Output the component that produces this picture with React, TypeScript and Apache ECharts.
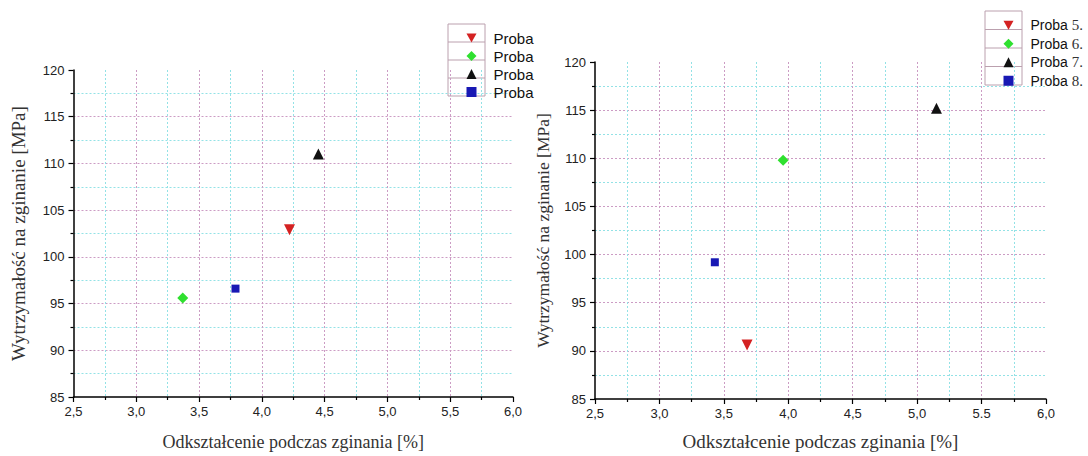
import React, { useEffect, useRef } from "react";
import * as echarts from "echarts";

// ---- data ----
const leftNames = ["Proba 1", "Proba 2", "Proba 3", "Proba 4"];
const leftX = [4.22, 3.37, 4.45, 3.79];
const leftY = [102.9, 95.6, 111.0, 96.6];

const rightNames = ["Proba 5.", "Proba 6.", "Proba 7.", "Proba 8."];
const rightX = [3.68, 3.96, 5.15, 3.43];
const rightY = [90.6, 109.8, 115.2, 99.2];

const xTicks = [2.5, 3.0, 3.5, 4.0, 4.5, 5.0, 5.5, 6.0];
const leftXLabels = ["2,5", "3,0", "3,5", "4,0", "4,5", "5,0", "5,5", "6,0"];
const rightXLabels = ["2,5", "3,0", "3,5", "4,0", "4,5", "5,0", "5.5", "6,0"];
const yTicks = [85, 90, 95, 100, 105, 110, 115, 120];

const xTitle = "Odkształcenie podczas zginania [%]";
const yTitle = "Wytrzymałość na zginanie [MPa]";

// marker styles per sample order: red down-triangle, green diamond, black triangle, blue square
const markerColors = ["#d42222", "#2fe02f", "#111111", "#1818b4"];
const markerSymbols = ["triangle", "diamond", "triangle", "rect"];
const markerRotate = [180, 0, 0, 0];
const markerSizes = [11, 11, 11, 8];
const legendIcons = ["path://M0,0 L10,0 L5,9 Z", "diamond", "triangle", "rect"];

const SANS = "'Liberation Sans', Arial, sans-serif";
const SERIF = "'Liberation Serif', 'Times New Roman', serif";

const MAJOR = "#cc9cc4";
const MINOR = "#93e2e6";

function labelFor(list: string[]) {
  return (v: number) => {
    const i = xTicks.findIndex((t) => Math.abs(t - v) < 1e-6);
    return i >= 0 ? list[i] : "";
  };
}

function xAxis(gridIndex: number, labels: string[], nameSize: number, nameGap: number) {
  return {
    type: "value",
    gridIndex,
    min: 2.5,
    max: 6.0,
    interval: 0.5,
    name: xTitle,
    nameLocation: "middle",
    nameGap,
    nameTextStyle: { fontFamily: SERIF, fontSize: nameSize, color: "#333" },
    axisLine: { show: true, onZero: false, lineStyle: { color: "#000", width: 1.5 } },
    axisTick: { show: true, length: 5, lineStyle: { color: "#000", width: 1.2 } },
    minorTick: { show: true, splitNumber: 2, length: 3, lineStyle: { color: "#000", width: 1.2 } },
    axisLabel: {
      margin: 8,
      fontFamily: SANS,
      fontSize: 13,
      color: "#222",
      formatter: labelFor(labels),
    },
    splitLine: {
      show: true,
      showMinLine: false,
      showMaxLine: false,
      lineStyle: { color: MAJOR, type: [2, 2], width: 1 },
    },
    minorSplitLine: { show: true, lineStyle: { color: MINOR, type: [2, 2], width: 1 } },
  };
}

function yAxis(gridIndex: number, nameSize: number, nameGap: number) {
  return {
    type: "value",
    gridIndex,
    min: yTicks[0],
    max: yTicks[yTicks.length - 1],
    interval: 5,
    name: yTitle,
    nameLocation: "middle",
    nameGap,
    nameTextStyle: { fontFamily: SERIF, fontSize: nameSize, color: "#333" },
    axisLine: { show: true, onZero: false, lineStyle: { color: "#000", width: 1.5 } },
    axisTick: { show: true, length: 5, lineStyle: { color: "#000", width: 1.2 } },
    minorTick: { show: true, splitNumber: 2, length: 3, lineStyle: { color: "#000", width: 1.2 } },
    axisLabel: { margin: 9, fontFamily: SANS, fontSize: 13, color: "#222" },
    splitLine: {
      show: true,
      showMinLine: false,
      showMaxLine: false,
      lineStyle: { color: MAJOR, type: [2, 2], width: 1 },
    },
    minorSplitLine: { show: true, lineStyle: { color: MINOR, type: [2, 2], width: 1 } },
  };
}

function makeSeries(names: string[], xs: number[], ys: number[], axisIndex: number) {
  return names.map((n, i) => ({
    type: "scatter",
    name: n,
    xAxisIndex: axisIndex,
    yAxisIndex: axisIndex,
    data: [[xs[i], ys[i]]],
    symbol: markerSymbols[i],
    symbolRotate: markerRotate[i],
    symbolSize: markerSizes[i],
    itemStyle: { color: markerColors[i], opacity: 1 },
  }));
}

function legendBox(x: number, y: number, w: number, rowH: number) {
  const els: any[] = [
    {
      type: "rect",
      shape: { x, y, width: w, height: rowH * 4 },
      style: { fill: "none", stroke: "#bba0ae", lineWidth: 1 },
      silent: true,
    },
  ];
  for (let i = 1; i < 4; i++) {
    els.push({
      type: "line",
      shape: { x1: x, y1: y + rowH * i, x2: x + w, y2: y + rowH * i },
      style: { stroke: "#bba0ae", lineWidth: 1 },
      silent: true,
    });
  }
  return els;
}

function legendData(names: string[]) {
  return names.map((n, i) => ({ name: n, icon: legendIcons[i] }));
}

export default function App() {
  const ref = useRef<HTMLDivElement>(null);

  useEffect(() => {
    if (!ref.current) return;
    const chart = echarts.init(ref.current, undefined, { renderer: "svg" });
    const option: any = {
      animation: false,
      backgroundColor: "#ffffff",
      grid: [
        { left: 73.5, top: 70, width: 439.5, height: 335, containLabel: false },
        { left: 595, top: 62, width: 451, height: 341, containLabel: false },
      ],
      xAxis: [xAxis(0, leftXLabels, 18, 36), xAxis(1, rightXLabels, 19, 33)],
      yAxis: [yAxis(0, 19, 46), yAxis(1, 17.5, 43)],
      legend: [
        {
          data: legendData(leftNames),
          orient: "vertical",
          left: 461.5,
          top: 24,
          itemWidth: 10,
          itemHeight: 10,
          itemGap: 0,
          selectedMode: false,
          formatter: () => "Proba",
          textStyle: {
            fontFamily: SANS,
            fontSize: 15,
            color: "#111",
            lineHeight: 18,
            padding: [0, 0, 0, 12],
          },
        },
        {
          data: legendData(rightNames),
          orient: "vertical",
          left: 998.5,
          top: 11,
          itemWidth: 10,
          itemHeight: 10,
          itemGap: 0,
          selectedMode: false,
          formatter: (name: string) => {
            const parts = name.split(" ");
            return "{a|" + parts[0] + "} {b|" + parts[1] + "}";
          },
          textStyle: {
            fontFamily: SANS,
            fontSize: 14,
            color: "#111",
            lineHeight: 18.5,
            padding: [0, 0, 0, 12],
            rich: {
              a: { fontFamily: SANS, fontSize: 14, color: "#111", lineHeight: 18.5 },
              b: { fontFamily: SERIF, fontSize: 15, color: "#333", lineHeight: 18.5 },
            },
          },
        },
      ],
      graphic: [...legendBox(448, 24, 37, 18), ...legendBox(985, 11, 37, 18.5)],
      series: [
        ...makeSeries(leftNames, leftX, leftY, 0),
        ...makeSeries(rightNames, rightX, rightY, 1),
      ],
    };
    chart.setOption(option);
    return () => chart.dispose();
  }, []);

  return (
    <div
      ref={ref}
      style={{ position: "fixed", left: 0, top: 0, width: 1088, height: 456, background: "#fff" }}
    />
  );
}
